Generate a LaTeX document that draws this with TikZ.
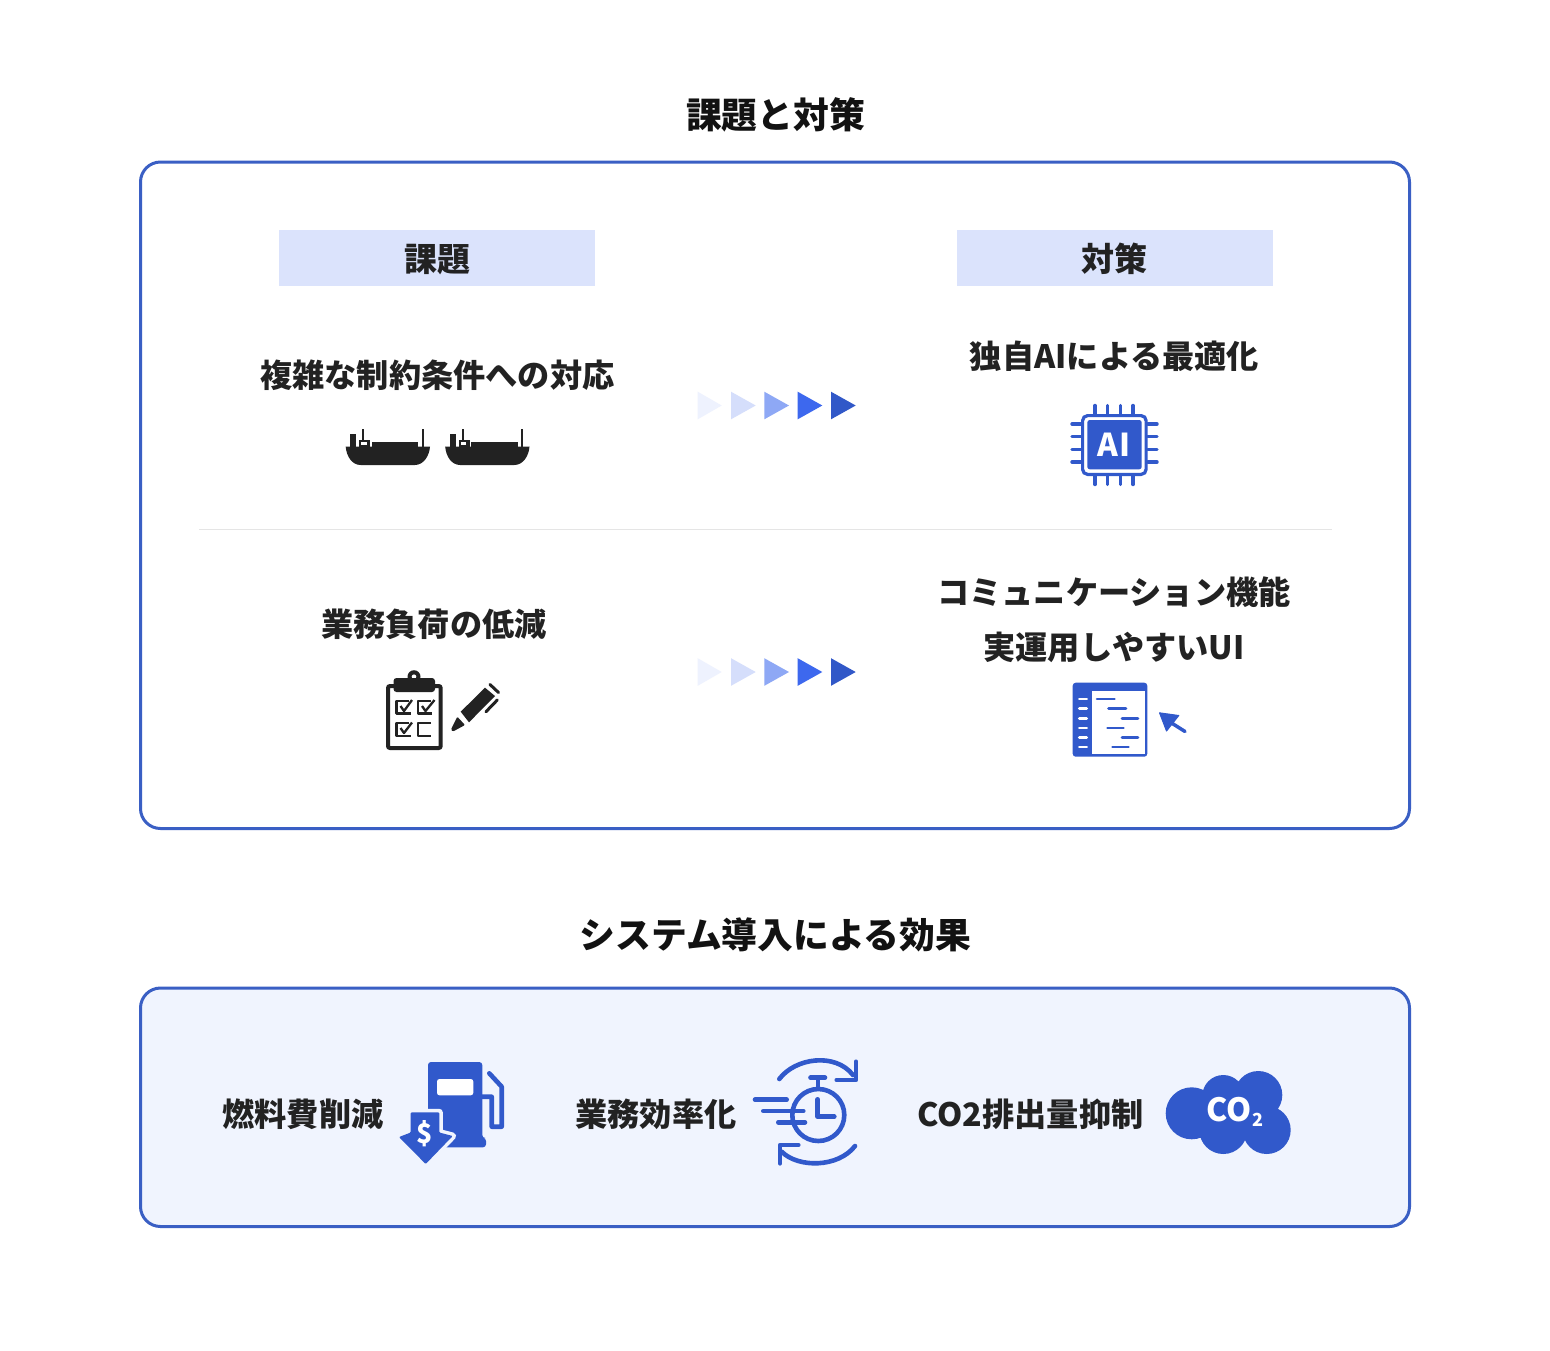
\documentclass[tikz,border=0pt]{standalone}
\usepackage{fontspec}
\setmainfont{Noto Sans CJK JP}
\definecolor{frameblue}{HTML}{3A5FC4}
\definecolor{iconblue}{HTML}{3159CB}
\definecolor{tabfill}{HTML}{DBE3FC}
\definecolor{panelfill}{HTML}{F0F4FE}
\definecolor{ink}{HTML}{222222}
\definecolor{tria}{HTML}{EEF2FE}
\definecolor{trib}{HTML}{D5DEFB}
\definecolor{tric}{HTML}{8EA8F5}
\definecolor{trid}{HTML}{3D68EE}
\definecolor{trie}{HTML}{3158C8}
\tikzset{
  x=1pt,y=-1pt,
  panel/.style={draw=frameblue,line width=3pt,rounded corners=20pt},
  tab/.style={fill=tabfill,draw=none},
  txt/.style={inner sep=0pt,anchor=base,yshift={-0.38*#1*1pt},font=\bfseries\fontsize{#1}{#1}\selectfont,text=ink},
  heading/.style={inner sep=0pt,anchor=base,yshift={-0.38*35.8*1pt},font=\bfseries\fontsize{35.8}{36}\selectfont,text=black!93},
  iconline/.style={draw=iconblue,line width=#1,line cap=round,line join=round},
  pics/shipicon/.style={code={
    \fill[ink] (0,17.7) -- (84.3,17.7) .. controls (83.5,27) and (78,36) .. (69,36) -- (15,36) .. controls (6,36) and (0.8,27) .. cycle;
    \fill[ink] (4.3,5) rectangle (10.3,18);
    \fill[ink] (16.6,0) rectangle (18.6,12);
    \fill[ink] (13.3,11) rectangle (24.3,18);
    \fill[white] (15.6,13.2) rectangle (20.8,16.4);
    \fill[ink] (26,13.3) rectangle (72.6,18);
    \fill[ink] (76,0) rectangle (78,18);
  }},
  pics/tris/.style={code={
    \fill[tria] (697.7,-13.8) -- (721.7,0) -- (697.7,13.8) -- cycle;
    \fill[trib] (731,-13.8) -- (755.7,0) -- (731,13.8) -- cycle;
    \fill[tric] (764.3,-13.8) -- (789,0) -- (764.3,13.8) -- cycle;
    \fill[trid] (797.7,-13.8) -- (822.3,0) -- (797.7,13.8) -- cycle;
    \fill[trie] (831,-13.8) -- (855.7,0) -- (831,13.8) -- cycle;
  }},
}
\begin{document}
\begin{tikzpicture}
\useasboundingbox (0,0) rectangle (1550,1350);
\fill[white] (0,0) rectangle (1550,1350);

% panels
\draw[panel,fill=white] (140.5,162) rectangle (1409.5,828.5);
\draw[panel,fill=panelfill] (140.5,988) rectangle (1409.5,1226.5);
\fill[tab] (279,230) rectangle (595,286);
\fill[tab] (956.5,230) rectangle (1272.5,286);
\draw[black!10,line width=1pt] (199,529) -- (1332,529);

% text
\node[heading] (title1) at (775.5,115) {課題と対策};
\node[heading] (title2) at (775.5,934.5) {システム導入による効果};
\node[txt=33] (tabA) at (437,259) {課題};
\node[txt=33] (tabB) at (1114,259) {対策};
\node[txt=32.2] (itemA) at (437.3,375) {複雑な制約条件への対応};
\node[txt=32.2] (itemB) at (1114.5,356) {独自AIによる最適化};
\node[txt=32.2] (itemC) at (434,624.5) {業務負荷の低減};
\node[txt=32.2] (itemD) at (1114,592.5) {コミュニケーション機能};
\node[txt=32.2] (itemE) at (1114,647) {実運用しやすいUI};
\node[txt=32.2] (fxA) at (303,1114) {燃料費削減};
\node[txt=32.2] (fxB) at (656,1114) {業務効率化};
\node[txt=32.2] (fxC) at (1030.5,1114) {CO2排出量抑制};

% arrows
\pic at (0,405.5) {tris};
\pic at (0,672) {tris};

% ships
\pic at (345.7,429) {shipicon};
\pic at (445.2,429) {shipicon};

% AI chip
\foreach \p in {1095,1107.7,1120.3,1133}{
  \draw[iconline=3.4pt] (\p,405.5) -- (\p,414);
  \draw[iconline=3.4pt] (\p,476) -- (\p,484.5);
}
\foreach \p in {424,436.7,449.3,462}{
  \draw[iconline=3.4pt] (1072,\p) -- (1081,\p);
  \draw[iconline=3.4pt] (1147.7,\p) -- (1157,\p);
}
\draw[iconblue,line width=3.2pt,rounded corners=5pt,fill=white] (1082.6,415.6) rectangle (1146.1,474.4);
\fill[iconblue,rounded corners=2.5pt] (1087.3,420) rectangle (1141.7,469.3);
\node[inner sep=0pt,text=white,font=\bfseries\fontsize{31.5}{32}\selectfont] (chipai) at (1114,444.5) {A\kern1.5pt I};

% clipboard
\draw[ink,line width=4pt,rounded corners=2pt,fill=white] (388,686) rectangle (440.7,748);
\fill[ink] (414,676.7) circle[radius=6.5];
\fill[white] (414,676.7) circle[radius=2.3];
\fill[ink,rounded corners=3pt] (393.5,692) -- (393.5,678) -- (435,678) -- (435,692) -- cycle;
\begin{scope}[ink,line width=2.3pt,line join=round]
  \draw (409.3,701) -- (396.5,701) -- (396.5,713.5) -- (411,713.5);
  \draw (400.5,706) -- (404,711) -- (412,700);
  \draw (431,701) -- (418.2,701) -- (418.2,713.5) -- (432,713.5);
  \draw (422,706) -- (425.5,711) -- (434.5,700);
  \draw (409.3,723) -- (396.5,723) -- (396.5,736) -- (411,736);
  \draw (400.5,728) -- (404,733) -- (412,722.5);
  \draw (431,723) -- (418.2,723) -- (418.2,736) -- (431,736);
\end{scope}
\fill[ink] (485,687.7) -- (495,696) -- (469,722.3) -- (460.7,711.7) -- cycle;
\fill[ink,rounded corners=1pt] (457.3,716.7) -- (465,725) -- (453,731.5) -- (451,729.5) -- cycle;
\draw[ink,line width=3pt,line cap=round] (490,684.5) -- (498.5,692.5);
\draw[ink,line width=3pt,line cap=round] (497.3,700) -- (486,711.7);

% UI window
\fill[iconblue,rounded corners=3pt] (1072.7,682.7) rectangle (1147.3,756.7);
\fill[white] (1092.3,691) rectangle (1145,754.3);
\foreach \p in {699,708.3,718.7,728,737.7,747}
  \draw[white,line width=2.8pt,line cap=round] (1079.3,\p) -- (1086.7,\p);
\foreach \a/\b/\p in {1097/1114.5/699,1108.5/1126/708.3,1122/1138/718.7,1107.5/1123.5/728,1122/1138/737.7,1112.5/1128.5/747}
  \draw[iconline=2.6pt] (\a,\p) -- (\b,\p);
\fill[iconblue,line join=round,draw=iconblue,line width=1pt] (1159.5,712.8) -- (1178.8,715.5) -- (1166.5,731) -- cycle;
\draw[iconline=3.5pt] (1170,722) -- (1185,731.5);

% fuel pump
\fill[iconblue,rounded corners=3pt] (428,1062) -- (482.3,1062) -- (482.3,1138) -- (486,1138) -- (486,1147.3) -- (428,1147.3) -- cycle;
\fill[white,rounded corners=2.5pt] (437,1079) rectangle (473.3,1095.3);
\draw[iconline=4.6pt] (482,1096.7) -- (491.7,1096.7) -- (491.7,1126.7) -- (501.7,1126.7) -- (501.7,1086.7) -- (489.3,1073.3);
\draw[panelfill,line width=7pt,line join=round] (410.7,1112.3) -- (439.3,1112.3) -- (439.3,1132.5) -- (452.7,1136) -- (425.7,1164) -- (399,1137) -- (410.7,1132.5) -- cycle;
\fill[iconblue,rounded corners=1pt] (410.7,1112.3) -- (439.3,1112.3) -- (439.3,1132.5) -- (452.7,1136) -- (425.7,1164) -- (399,1137) -- (410.7,1132.5) -- cycle;
\node[inner sep=0pt,text=white,font=\bfseries\fontsize{27}{27}\selectfont] (dollar) at (425,1134) {\$};

% clock
\draw[iconline=4.6pt] (779.3,1079) .. controls (795,1058) and (835,1052) .. (853,1075);
\draw[iconline=4.6pt] (856,1061.7) -- (856,1080) -- (836.7,1080);
\draw[iconline=4.6pt] (855,1146) .. controls (838,1168) and (798,1168) .. (781.7,1151.7);
\draw[iconline=4.6pt] (780,1163.3) -- (780,1145) -- (798.3,1145);
\draw[iconline=4.6pt] (818.3,1115) circle[radius=26];
\draw[iconline=4.6pt] (810.5,1077.7) -- (825,1077.7);
\draw[iconline=4.6pt] (818,1078) -- (818,1088);
\draw[iconline=4.6pt] (817.7,1099.3) -- (817.7,1116.7) -- (834.3,1116.7);
\draw[iconline=4.6pt] (755,1099.7) -- (786.7,1099.7);
\draw[iconline=4.6pt] (763.3,1111) -- (803.3,1111);
\draw[iconline=4.6pt] (778.3,1122.3) -- (805,1122.3);

% cloud
\fill[iconblue] (1191.7,1113.3) circle[radius=26]
  (1223.3,1096) circle[radius=21]
  (1258.3,1095) circle[radius=24]
  (1266.7,1130) circle[radius=24]
  (1223.3,1130) circle[radius=24]
  (1230,1112) circle[radius=25];
\node[inner sep=0pt,text=white,font=\bfseries\fontsize{32}{32}\selectfont] (cotwo) at (1235,1112) {CO\raisebox{-5pt}{\fontsize{18}{18}\selectfont 2}};
\end{tikzpicture}
\end{document}
